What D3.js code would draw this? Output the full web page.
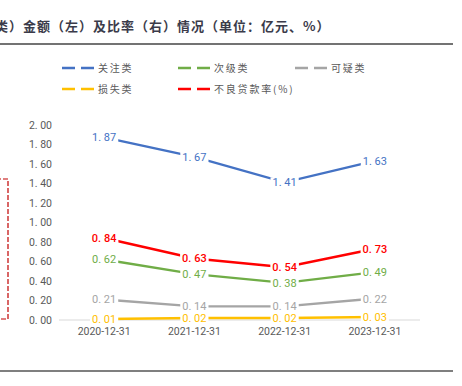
<!DOCTYPE html>
<head>
<meta charset="utf-8">
<style>
  body { margin: 0; background: #fff; }
  text { font-family: "Noto Sans CJK SC", "Noto Sans", sans-serif; }
</style>
</head>
<script src="https://d3js.org/d3.v7.min.js"></script>
<div id="chart"></div>
<script>
// data
var years = ["2020-12-31", "2021-12-31", "2022-12-31", "2023-12-31"];
var seriesNames = ["关注类", "次级类", "可疑类", "损失类", "不良贷款率(%)"];
var seriesColors = ["#4472C4", "#70AD47", "#A5A5A5", "#FFC000", "#FF0000"];
var guanzhu = [1.87, 1.67, 1.41, 1.63];
var ciji = [0.62, 0.47, 0.38, 0.49];
var keyi = [0.21, 0.14, 0.14, 0.22];
var sunshi = [0.01, 0.02, 0.02, 0.03];
var buliang = [0.84, 0.63, 0.54, 0.73];
var yTicks = [0, 0.2, 0.4, 0.6, 0.8, 1.0, 1.2, 1.4, 1.6, 1.8, 2.0];
var title = "类）金额（左）及比率（右）情况（单位：亿元、%）";

var allSeries = [guanzhu, ciji, keyi, sunshi, buliang];

var W = 462, H = 386;
var svg = d3.select("#chart").append("svg")
  .attr("width", W).attr("height", H);

// title + rules
svg.append("text")
  .attr("x", -5).attr("y", 31)
  .attr("font-size", 13).attr("font-weight", "bold")
  .attr("letter-spacing", 1)
  .attr("fill", "#3b3b4a")
  .text(title);
svg.append("line").attr("x1", 0).attr("x2", 453).attr("y1", 44).attr("y2", 44)
  .attr("stroke", "#444").attr("stroke-width", 1.5);
svg.append("line").attr("x1", 0).attr("x2", 453).attr("y1", 371).attr("y2", 371)
  .attr("stroke", "#555").attr("stroke-width", 1.5);

// red dashed box at the left edge (rest is off the picture)
svg.append("rect").attr("x", -60).attr("y", 179).attr("width", 68).attr("height", 140)
  .attr("fill", "none").attr("stroke", "#C00000").attr("stroke-width", 1.2)
  .attr("stroke-dasharray", "5,2");

// scales
var x = d3.scaleBand().domain(years).range([59, 420]);
var y = d3.scaleLinear().domain([0, 2]).range([320, 124.7]);
function fmt(v) { return v.toFixed(2).replace(".", ". "); }

// left axis
var yAxis = svg.append("g").attr("transform", "translate(52,0)")
  .call(d3.axisLeft(y).tickValues(yTicks).tickSize(0).tickPadding(0).tickFormat(fmt));
yAxis.select(".domain").remove();
yAxis.selectAll("text").attr("font-size", 10.5).attr("fill", "#595959")
  .style("font-family", "Roboto, 'Noto Sans', sans-serif");

// baseline
svg.append("line").attr("x1", 59).attr("x2", 420).attr("y1", y(0)).attr("y2", y(0))
  .attr("stroke", "#d9d9d9").attr("stroke-width", 1);

// x axis labels
var xAxis = svg.append("g").attr("transform", "translate(0," + y(0) + ")")
  .call(d3.axisBottom(x).tickSize(0).tickPadding(8));
xAxis.select(".domain").remove();
xAxis.selectAll("text").attr("font-size", 10.5).attr("fill", "#595959")
  .style("font-family", "Roboto, 'Noto Sans', sans-serif");

var cx = function (d, i) { return x(years[i]) + x.bandwidth() / 2; };

// lines
var line = d3.line().x(cx).y(function (d) { return y(d); });
allSeries.forEach(function (s, k) {
  svg.append("path").datum(s)
    .attr("d", line)
    .attr("fill", "none")
    .attr("stroke", seriesColors[k])
    .attr("stroke-width", 2.4);
});

// data labels on white background
allSeries.forEach(function (s, k) {
  var g = svg.append("g");
  s.forEach(function (v, i) {
    var t = g.append("text")
      .attr("x", cx(v, i)).attr("y", y(v) + 4)
      .attr("text-anchor", "middle")
      .attr("font-size", 11)
      .attr("font-weight", k === 4 ? 500 : "normal")
      .attr("fill", seriesColors[k])
      .style("font-family", "Roboto, 'Noto Sans', sans-serif")
      .text(fmt(v));
    var b = t.node().getBBox();
    g.insert("rect", "text")
      .attr("x", b.x - 2).attr("y", b.y + 1).attr("width", b.width + 4).attr("height", b.height - 2)
      .attr("fill", "#fff");
  });
});

// legend
var legPos = [[62, 68], [178, 68], [295, 68], [62, 89], [178, 89]];
seriesNames.forEach(function (n, k) {
  var p = legPos[k];
  var lg = svg.append("g").attr("transform", "translate(" + p[0] + "," + p[1] + ")");
  lg.append("line").attr("x1", 0).attr("x2", 33).attr("y1", 0).attr("y2", 0)
    .attr("stroke", seriesColors[k]).attr("stroke-width", 2.4)
    .attr("stroke-dasharray", "13,6");
  lg.append("text").attr("x", 36).attr("y", 4)
    .attr("font-size", 10).attr("letter-spacing", 1.8)
    .attr("fill", "#595959").text(n);
});
</script>
